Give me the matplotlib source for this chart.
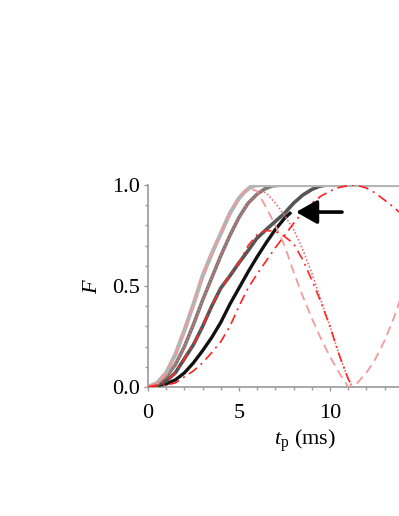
import numpy as np
import matplotlib as mpl
mpl.use("Agg")
import matplotlib.pyplot as plt

mpl.rcParams.update({
    "font.family": "Liberation Serif",
    "mathtext.fontset": "custom",
    "mathtext.rm": "Liberation Serif",
    "mathtext.it": "Liberation Serif:italic",
    "font.size": 16,
})

# values (t in ms, F dimensionless)
t_a = [0, 0.5, 1.0, 1.5, 2.0, 2.5, 3.0, 3.5, 4.0, 4.5, 5.0, 5.3, 5.6, 5.9, 6.3, 15]
f_a = [0, 0.02, 0.07, 0.16, 0.28, 0.41, 0.55, 0.66, 0.76, 0.86, 0.935, 0.965, 0.988, 0.998, 1.0, 1.0]

t_b = [0, 0.5, 1.0, 1.5, 2.0, 2.5, 3.0, 3.5, 4.0, 4.5, 5.0, 5.5, 6.0, 6.4, 6.8, 7.3, 15]
f_b = [0, 0.015, 0.05, 0.11, 0.20, 0.31, 0.43, 0.54, 0.65, 0.75, 0.84, 0.91, 0.955, 0.98, 0.995, 1.0, 1.0]

t_c = [0, 0.5, 1.0, 1.5, 2.0, 2.5, 3.0, 3.5, 4.0, 4.5, 5.0, 5.5, 5.97, 6.5, 7.0, 7.5, 8.0,
       8.5, 9.0, 9.4, 9.8, 15]
f_c = [0, 0.01, 0.03, 0.07, 0.14, 0.21, 0.30, 0.40, 0.49, 0.55, 0.615, 0.675, 0.735, 0.78, 0.82,
       0.86, 0.91, 0.95, 0.978, 0.993, 1.0, 1.0]

t_d = [0, 1.0, 1.5, 2.0, 2.5, 3.0, 3.5, 4.0, 4.5, 5.0, 5.5, 6.0, 6.5, 7.0, 7.5, 7.8]
f_d = [0, 0.015, 0.035, 0.07, 0.12, 0.18, 0.245, 0.32, 0.41, 0.49, 0.57, 0.645, 0.715, 0.78, 0.835, 0.86]

# Rabi-type curves
t_ra = [0, 0.5, 1.0, 1.5, 2.0, 2.5, 3.0, 3.5, 4.0, 4.5, 5.0, 5.5, 6.0, 6.6, 7.0, 7.5, 8.0, 8.5,
        9.0, 9.5, 10.0, 10.5, 11.0, 11.5, 12.0, 12.5, 13.0, 13.5, 14.0]
f_ra = [0, 0.02, 0.07, 0.16, 0.28, 0.41, 0.55, 0.66, 0.76, 0.86, 0.94, 0.985, 0.97, 0.87, 0.80, 0.70,
        0.57, 0.45, 0.34, 0.24, 0.15, 0.07, 0.0, 0.02, 0.07, 0.14, 0.23, 0.34, 0.47]

t_rb = [0, 0.5, 1.0, 1.5, 2.0, 2.5, 3.0, 3.5, 4.0, 4.5, 5.0, 5.5, 6.2, 6.5, 7.0, 7.5, 8.0, 8.5,
        9.0, 9.5, 10.0, 10.5, 11.0, 11.25]
f_rb = [0, 0.015, 0.05, 0.11, 0.20, 0.31, 0.43, 0.54, 0.65, 0.75, 0.84, 0.91, 0.97, 0.96, 0.91, 0.85,
        0.78, 0.68, 0.565, 0.43, 0.30, 0.16, 0.04, 0.0]

t_rc = [0, 0.5, 1.0, 1.5, 2.0, 2.5, 3.0, 3.5, 4.0, 4.5, 5.0, 5.5, 6.0, 6.5, 7.0, 7.5, 8.0, 8.5,
        9.0, 9.5, 10.0, 10.5, 11.0, 11.25]
f_rc = [0, 0.01, 0.03, 0.07, 0.14, 0.21, 0.30, 0.40, 0.49, 0.55, 0.615, 0.70, 0.755, 0.775, 0.77, 0.745,
        0.71, 0.63, 0.53, 0.42, 0.30, 0.16, 0.04, 0.0]

t_rd = [0, 1.0, 1.5, 2.0, 2.5, 3.0, 3.5, 4.0, 4.5, 5.0, 5.5, 6.0, 6.5, 7.0, 7.5, 8.0, 8.5, 9.0,
        9.5, 10.0, 10.5, 11.2, 11.5, 12.0, 12.5, 13.0, 13.5, 14.0]
f_rd = [0, 0.01, 0.02, 0.05, 0.08, 0.12, 0.17, 0.225, 0.30, 0.40, 0.49, 0.56, 0.625, 0.69, 0.75, 0.81,
        0.865, 0.91, 0.945, 0.97, 0.988, 1.0, 0.998, 0.985, 0.96, 0.925, 0.89, 0.85]

arrow_tail = (10.66, 0.866)
arrow_tip = (8.13, 0.866)

fig = plt.figure(figsize=(3.99, 5.16), dpi=100)
ax = fig.add_axes([148 / 399, 129 / 516, 273 / 399, 202 / 516])

ax.plot(t_b, f_b, color="#7a7a7a", lw=2.6, zorder=3)
ax.plot(t_d, f_d, color="#111111", lw=2.4, zorder=3)
ax.plot(t_c, f_c, color="#555555", lw=2.6, zorder=4)
ax.plot(t_a, f_a, color="#b4b4b4", lw=3.0, zorder=4.5)

ax.plot(t_ra, f_ra, color="#f59a9a", lw=1.3, ls=(0, (5, 3)), zorder=5)
ax.plot(t_rb, f_rb, color="#ee7070", lw=1.2, ls=(0, (1, 1.2)), zorder=5)
ax.plot(t_rc, f_rc, color="#ff2a2a", lw=1.2, ls=(0, (6, 3, 1.2, 3)), zorder=5)
ax.plot(t_rd, f_rd, color="#ff2020", lw=1.2, ls=(0, (6, 3, 1.2, 3)), zorder=5)

ax.annotate("", xy=arrow_tip, xytext=arrow_tail,
            arrowprops=dict(arrowstyle="-|>,head_length=0.8,head_width=0.45",
                            color="black", lw=2.6, shrinkA=0, shrinkB=0),
            zorder=6)

ax.set_xlim(0, 15)
ax.set_ylim(0, 1.0)
ax.set_xticks([0, 5, 10])
ax.set_xticks(np.arange(0, 16, 1), minor=True)
ax.set_yticks([0, 0.5, 1.0])
ax.set_yticks(np.arange(0, 1.01, 0.1), minor=True)
ax.set_yticklabels(["0.0", "0.5", "1.0"])

for side in ["top", "right"]:
    ax.spines[side].set_visible(False)
for side in ["left", "bottom"]:
    ax.spines[side].set_color("#9a9a9a")
    ax.spines[side].set_linewidth(1.2)

ax.tick_params(which="both", direction="out", color="#9a9a9a", width=1.0, labelsize=16)
ax.tick_params(which="major", length=3)
ax.tick_params(which="minor", length=2.5)
ax.tick_params(axis="x", pad=9)
ax.tick_params(axis="y", pad=3)

ax.set_ylabel(r"$F$", fontsize=16)
ax.yaxis.set_label_coords(-0.17, 0.5)
ax.set_xlabel(r"$t_\mathrm{p}$ (ms)", fontsize=16)
ax.xaxis.set_label_coords((305 - 148) / 273, -0.2)

fig.savefig("out.png", dpi=100)
